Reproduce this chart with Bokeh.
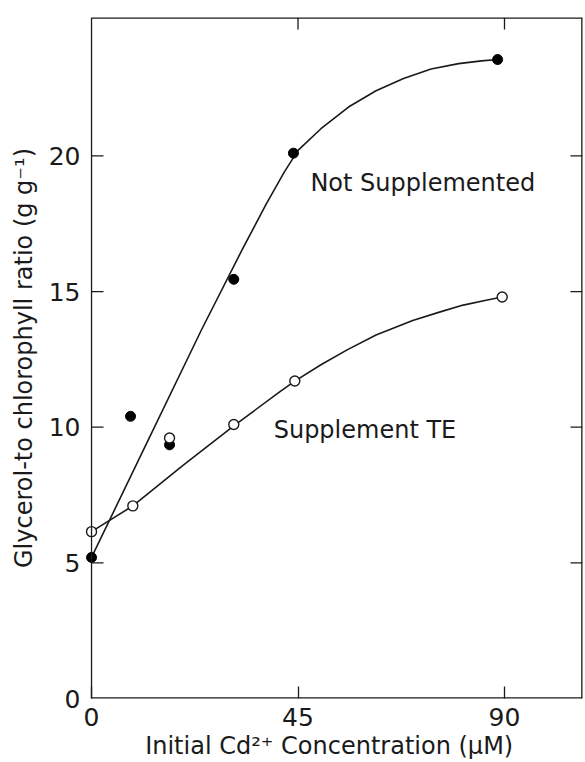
import math
from bokeh.plotting import figure
from bokeh.models import LinearAxis, FixedTicker, Range1d, ColumnDataSource, Span
from bokeh.core.properties import value
from bokeh.embed import file_html
from bokeh.resources import INLINE

# ---- data ----
conc_ns = [0, 8.5, 17, 31, 44, 88.5]
ratio_ns = [5.2, 10.4, 9.35, 15.45, 20.1, 23.55]

conc_te = [0, 9, 17, 31, 44.3, 89.5]
ratio_te = [6.15, 7.1, 9.6, 10.1, 11.7, 14.8]

# hand-drawn curves
curve_ns_x = [0, 12, 24, 33, 38, 42, 45, 50, 56, 62, 68, 74, 80, 85, 88.5]
curve_ns_y = [5.2, 9.4, 13.6, 16.6, 18.2, 19.4, 20.2, 21.0, 21.8, 22.4, 22.85, 23.2, 23.4, 23.5, 23.55]
curve_te_x = [0, 9, 20, 31, 41, 44.3, 50, 55.7, 62, 70, 76, 81, 86, 89.5]
curve_te_y = [6.15, 7.1, 8.6, 10.05, 11.3, 11.7, 12.3, 12.85, 13.4, 13.93, 14.25, 14.5, 14.68, 14.8]

x_ticks = [0, 45, 90]
y_ticks = [0, 5, 10, 15, 20]
x_top_ticks = [45, 90]
y_side_ticks = [5, 10, 15, 20]

label_text = ["Not Supplemented", "Supplement TE"]
label_x = [47.7, 39.7]
label_y = [19.0, 9.9]

x_title = "Initial Cd\u00b2\u207a  Concentration (\u03bcM)"
y_title = "Glycerol-to chlorophyll ratio (g g\u207b\u00b9)"

X_MIN = -1.75   # small pad so the markers at x = 0 are not clipped
X_MAX = 107.0
Y_MAX = 25.1

FONT = "DejaVu Sans"
INK = "#1a1a1a"
LW = 1.3

p = figure(width=585, height=762, output_backend="svg", toolbar_location=None,
           x_range=Range1d(X_MIN, X_MAX), y_range=Range1d(0, Y_MAX),
           x_axis_location=None, y_axis_location=None,
           min_border_left=83, min_border_right=3, min_border_top=17, min_border_bottom=64)
p.outline_line_color = None
p.grid.visible = False
p.background_fill_color = "white"
p.border_fill_color = "white"

def style_axis(ax, ticks, title):
    ax.ticker = FixedTicker(ticks=ticks)
    ax.minor_tick_line_color = None
    ax.major_tick_in = 12
    ax.major_tick_out = 0
    ax.major_tick_line_color = INK
    ax.major_tick_line_width = LW
    ax.axis_line_color = None
    ax.major_label_text_font = FONT
    ax.major_label_text_font_size = "25px"
    ax.major_label_text_color = INK
    ax.axis_label = title
    ax.axis_label_text_font = FONT
    ax.axis_label_text_font_size = "24px"
    ax.axis_label_text_font_style = "normal"
    ax.axis_label_text_color = INK

xb = LinearAxis()
style_axis(xb, x_ticks, x_title)
xb.major_label_standoff = 9
xb.axis_label_standoff = 3
p.add_layout(xb, "below")

yl = LinearAxis()
style_axis(yl, y_ticks, y_title)
yl.major_tick_line_color = None
yl.major_label_standoff = 3
yl.axis_label_standoff = 8
p.add_layout(yl, "left")

# frame: left spine at x = 0, others along the range limits
p.add_layout(Span(location=0, dimension="height", line_color=INK, line_width=LW))
p.segment(x0=[0, 0, X_MAX], y0=[0, Y_MAX, 0], x1=[X_MAX, X_MAX, X_MAX], y1=[0, Y_MAX, Y_MAX],
          line_color=INK, line_width=2 * LW)

# inward ticks on the left, top and right sides
p.ray(x=[0] * len(y_side_ticks), y=y_side_ticks, length=12, length_units="screen",
      angle=0, line_color=INK, line_width=LW)
p.ray(x=x_top_ticks, y=[Y_MAX] * len(x_top_ticks), length=12, length_units="screen",
      angle=-math.pi / 2, line_color=INK, line_width=LW)
p.ray(x=[X_MAX] * len(y_side_ticks), y=y_side_ticks, length=12, length_units="screen",
      angle=math.pi, line_color=INK, line_width=LW)

# curves
p.line(curve_ns_x, curve_ns_y, line_color=INK, line_width=1.6)
p.line(curve_te_x, curve_te_y, line_color=INK, line_width=1.6)

# markers
p.scatter(conc_ns, ratio_ns, size=10, marker="circle", fill_color="black", line_color="black")
p.scatter(conc_te, ratio_te, size=10, marker="circle", fill_color="white", line_color=INK, line_width=1.4)

src = ColumnDataSource(dict(x=label_x, y=label_y, t=label_text))
p.text(x="x", y="y", text="t", source=src, text_font=value(FONT), text_font_size="24px",
       text_color=INK, text_baseline="alphabetic", text_align="left")

open("out.html", "w").write(file_html(p, INLINE))
